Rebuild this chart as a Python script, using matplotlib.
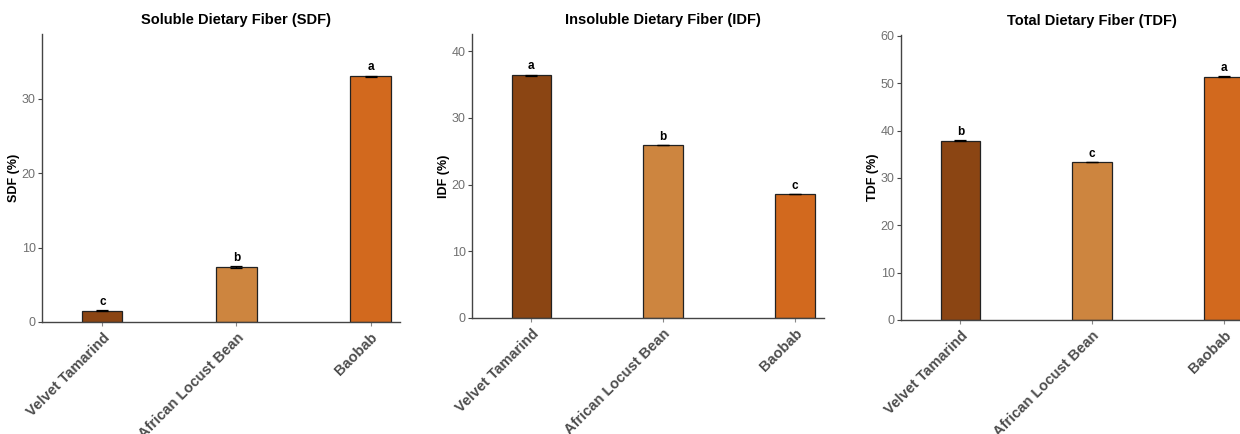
import matplotlib
matplotlib.use("Agg")
import matplotlib.pyplot as plt

plt.rcParams['font.family'] = ['Liberation Sans', 'DejaVu Sans']

species = ["Velvet Tamarind", "African Locust Bean", "Baobab"]
colors = ["#8B4513", "#CD853F", "#D2691E"]

sdf = [1.5, 7.4, 33.0]
sdf_err = [0.05, 0.08, 0.12]
sdf_letters = ["c", "b", "a"]

idf = [36.4, 25.95, 18.6]
idf_err = [0.12, 0.05, 0.05]
idf_letters = ["a", "b", "c"]

tdf = [37.9, 33.35, 51.4]
tdf_err = [0.05, 0.08, 0.12]
tdf_letters = ["b", "c", "a"]

panels = [
    ("Soluble Dietary Fiber (SDF)", "SDF (%)", sdf, sdf_err, sdf_letters,
     [42, 400, 34, 322], 38.7, [0, 10, 20, 30]),
    ("Insoluble Dietary Fiber (IDF)", "IDF (%)", idf, idf_err, idf_letters,
     [472, 824, 34, 318], 42.6, [0, 10, 20, 30, 40]),
    ("Total Dietary Fiber (TDF)", "TDF (%)", tdf, tdf_err, tdf_letters,
     [901, 1253, 35, 320], 60.2, [0, 10, 20, 30, 40, 50, 60]),
]

W, H = 1240, 434
fig = plt.figure(figsize=(W / 100, H / 100), dpi=100)

x0, x1 = -0.45, 2.22
xs = list(range(len(species)))

for title, ylab, vals, errs, letters, box, ytop, yticks in panels:
    l, r, t, b = box
    ax = fig.add_axes([l / W, (H - b) / H, (r - l) / W, (b - t) / H])
    ax.bar(xs, vals, width=0.3, color=colors, edgecolor="#222222", linewidth=0.9, zorder=2)
    ax.errorbar(xs, vals, yerr=errs, fmt="none", ecolor="black", elinewidth=0.9,
                capsize=4.3, capthick=0.9, zorder=3)
    for xi, v, e, lt in zip(xs, vals, errs, letters):
        ax.annotate(lt, (xi, v + e), xytext=(0, 1.5), textcoords="offset points",
                    ha="center", va="bottom", fontsize=8.5, fontweight="bold", color="black")
    ax.set_xlim(x0, x1)
    ax.set_ylim(0, ytop)
    ax.set_yticks(yticks)
    ax.set_xticks(xs)
    ax.set_xticklabels(species, rotation=45, ha="right", va="top", rotation_mode="anchor",
                       fontsize=10.5, fontweight="bold", color="#4D4D4D")
    ax.tick_params(axis="y", labelsize=9, labelcolor="#707070", color="#444444",
                   length=3, width=0.8, pad=1.5)
    ax.tick_params(axis="x", color="#888888", length=3, width=0.8, pad=3)
    ax.set_ylabel(ylab, fontsize=9, fontweight="bold", labelpad=1)
    for side in ["top", "right"]:
        ax.spines[side].set_visible(False)
    for side in ["left", "bottom"]:
        ax.spines[side].set_color("#444444")
        ax.spines[side].set_linewidth(1.0)
    ax.set_title(title, x=(1 - x0) / (x1 - x0), fontsize=10.5, fontweight="bold", pad=7)

fig.savefig("out.png", dpi=100)
